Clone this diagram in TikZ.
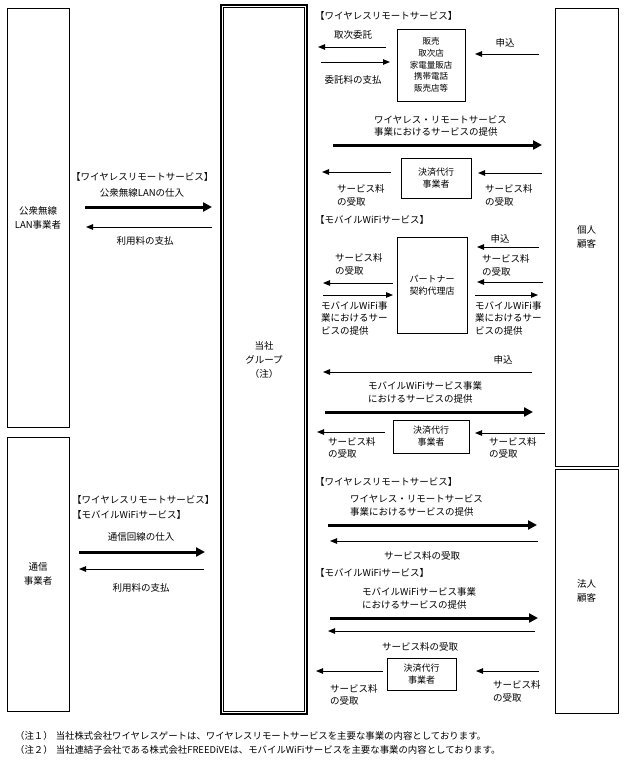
\documentclass[tikz,border=0pt]{standalone}
\usepackage{fontspec}
\setmainfont{Noto Sans CJK JP}
\usetikzlibrary{arrows.meta}
\begin{document}
\begin{tikzpicture}[x=1pt,y=-1pt,
 txt/.style={inner sep=0pt, font=\fontsize{9.5}{12.5}\selectfont, align=left},
 ctxt/.style={txt, align=center},
 bigbox/.style={draw, line width=0.8pt, inner sep=0pt, font=\fontsize{9.5}{14}\selectfont, align=center},
 smallbox/.style={draw, line width=0.8pt, inner sep=0pt, font=\fontsize{9}{12}\selectfont, align=center},
 thinarr/.style={line width=0.9pt, -{Triangle[length=7pt,width=5.5pt]}},
 thickarr/.style={line width=3pt, -{Triangle[length=9pt,width=9pt]}}]
\fill[white] (0,0) rectangle (624,760);
\useasboundingbox (0,0) rectangle (624,760);

% big boxes
\node[bigbox, minimum width=62pt, minimum height=419pt] (l1) at (38,217.5) {公衆無線\\LAN事業者};
\node[bigbox, minimum width=62pt, minimum height=274pt] (l2) at (38,574) {通信\\事業者};
\node[bigbox, line width=1.6pt, minimum width=86pt, minimum height=709pt] (c) at (264,359.5) {当社\\グループ\\（注）};
\draw[line width=0.7pt] ([shift={(3.2pt,-3.2pt)}]c.north west) rectangle ([shift={(-3.2pt,3.2pt)}]c.south east);
\node[bigbox, minimum width=63pt, minimum height=458pt] (r1) at (586.5,237) {個人\\顧客};
\node[bigbox, minimum width=63pt, minimum height=244pt] (r2) at (586.5,591) {法人\\顧客};

% left upper
\node[txt, anchor=west] (t1) at (71,177) {【ワイヤレスリモートサービス】};
\node[ctxt] (t2) at (142,193) {公衆無線LANの仕入};
\draw[thickarr] (85,207) -- (212,207);
\draw[thinarr] (212,227) -- (86,227);
\node[ctxt] (t3) at (145,241) {利用料の支払};

% left lower
\node[txt, anchor=west] (t4) at (72,500) {【ワイヤレスリモートサービス】};
\node[txt, anchor=west] (t5) at (72,515) {【モバイルWiFiサービス】};
\node[ctxt] (t6) at (141,537) {通信回線の仕入};
\draw[thickarr] (79,552) -- (205,552);
\draw[thinarr] (204,569) -- (79,569);
\node[ctxt] (t7) at (141,588) {利用料の支払};

% right: wireless remote (individual)
\node[txt, anchor=west] (t8) at (315,16) {【ワイヤレスリモートサービス】};
\node[ctxt] (t9) at (353,35) {取次委託};
\draw[thinarr] (386,47) -- (318,47);
\draw[thinarr] (321,62) -- (390,62);
\node[ctxt] (t10) at (353,80) {委託料の支払};
\node[smallbox, font=\fontsize{8.5}{11.75}\selectfont, minimum width=68pt, minimum height=72pt] (b1) at (431,65) {販売\\取次店\\家電量販店\\携帯電話\\販売店等};
\node[ctxt] (t11) at (505,43) {申込};
\draw[thinarr] (539,54) -- (475,54);

\node[txt, anchor=west] (t12) at (374,126) {ワイヤレス・リモートサービス\\事業におけるサービスの提供};
\draw[thickarr] (333,145) -- (542,145);
\node[smallbox, minimum width=70pt, minimum height=40pt] (b2) at (436,178) {決済代行\\事業者};
\draw[thinarr] (391,172) -- (322,172);
\node[txt, anchor=west] (t13) at (337,195.5) {サービス料\\の受取};
\draw[thinarr] (542,173) -- (478,173);
\node[txt, anchor=west] (t14) at (485,195.5) {サービス料\\の受取};

% right: mobile wifi (individual)
\node[txt, anchor=west] (t15) at (315,220) {【モバイルWiFiサービス】};
\node[smallbox, minimum width=70pt, minimum height=96pt] (b3) at (432,285) {パートナー\\契約代理店};
\node[txt, anchor=west] (t16) at (335,264.5) {サービス料\\の受取};
\draw[thinarr] (393,283) -- (323,283);
\draw[thinarr] (323,295) -- (393,295);
\node[txt, anchor=west] (t17) at (321,318) {モバイルWiFi事\\業におけるサー\\ビスの提供};
\node[ctxt] (t18) at (500,239) {申込};
\draw[thinarr] (539,247) -- (477,247);
\node[txt, anchor=west] (t19) at (482,265.5) {サービス料\\の受取};
\draw[thinarr] (543,282) -- (477,282);
\draw[thinarr] (475,295) -- (538,295);
\node[txt, anchor=west] (t20) at (475,318) {モバイルWiFi事\\業におけるサー\\ビスの提供};

\node[ctxt] (t21) at (503,360) {申込};
\draw[thinarr] (532,372) -- (323,372);
\node[txt, anchor=west] (t22) at (368,392.5) {モバイルWiFiサービス事業\\におけるサービスの提供};
\draw[thickarr] (325,412) -- (533,412);
\node[smallbox, minimum width=76pt, minimum height=33pt] (b4) at (431,436.5) {決済代行\\事業者};
\draw[thinarr] (385,432) -- (317,432);
\node[txt, anchor=west] (t23) at (328,448) {サービス料\\の受取};
\draw[thinarr] (545,433) -- (475,433);
\node[txt, anchor=west] (t24) at (489,448) {サービス料\\の受取};

% right: corporate
\node[txt, anchor=west] (t25) at (315,482) {【ワイヤレスリモートサービス】};
\node[txt, anchor=west] (t26) at (350,505.5) {ワイヤレス・リモートサービス\\事業におけるサービスの提供};
\draw[thickarr] (328,525) -- (537,525);
\draw[thinarr] (538,541) -- (330,541);
\node[ctxt] (t27) at (422,556) {サービス料の受取};

\node[txt, anchor=west] (t28) at (315,573) {【モバイルWiFiサービス】};
\node[txt, anchor=west] (t29) at (362,598.5) {モバイルWiFiサービス事業\\におけるサービスの提供};
\draw[thickarr] (330,618) -- (538,618);
\draw[thinarr] (535,631) -- (328,631);
\node[ctxt] (t30) at (420,647) {サービス料の受取};
\node[smallbox, minimum width=69pt, minimum height=32pt] (b5) at (421.5,674) {決済代行\\事業者};
\draw[thinarr] (383,671) -- (316,671);
\node[txt, anchor=west] (t31) at (330,695) {サービス料\\の受取};
\draw[thinarr] (539,671) -- (476,671);
\node[txt, anchor=west] (t32) at (493,691.5) {サービス料\\の受取};

% notes
\node[txt, font=\fontsize{9.4}{13.5}\selectfont, anchor=west] (n1) at (15,736) {（注１）\hspace{3pt}当社株式会社ワイヤレスゲートは、ワイヤレスリモートサービスを主要な事業の内容としております。};
\node[txt, font=\fontsize{9.4}{13.5}\selectfont, anchor=west] (n2) at (15,750) {（注２）\hspace{3pt}当社連結子会社である株式会社FREEDiVEは、モバイルWiFiサービスを主要な事業の内容としております。};
\end{tikzpicture}
\end{document}
